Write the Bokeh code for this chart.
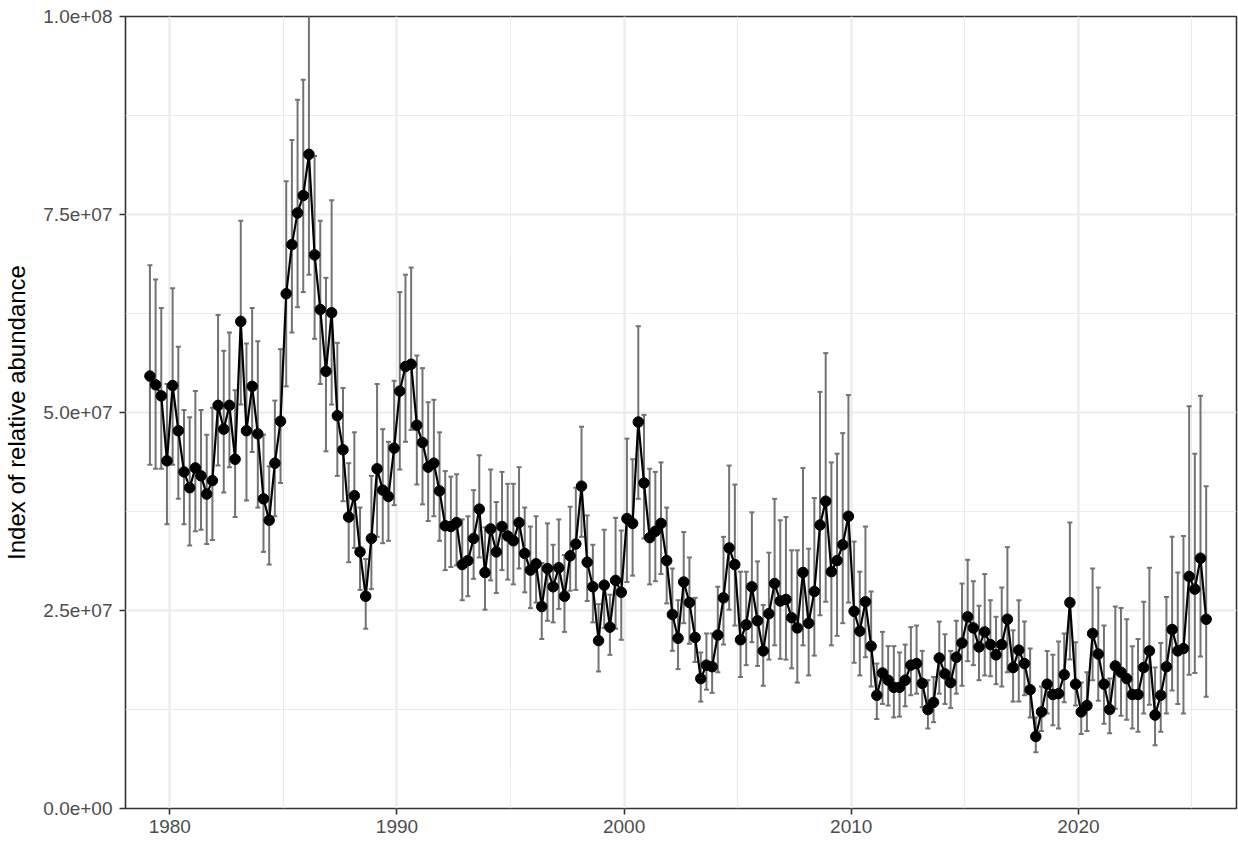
import numpy as np
from bokeh.plotting import figure
from bokeh.models import Range1d, FixedTicker, CustomJSTickFormatter, ColumnDataSource
from bokeh.embed import file_html
from bokeh.resources import INLINE

# Quarterly index of relative abundance (millions), with lower / upper interval bounds
index_m = [
    54.6, 53.5, 52.1, 43.9, 53.4, 47.7, 42.5, 40.5, 43.0, 42.0,
    39.7, 41.4, 50.9, 47.9, 50.9, 44.1, 61.5, 47.7, 53.3, 47.3,
    39.1, 36.4, 43.6, 48.9, 65.0, 71.2, 75.2, 77.4, 82.6, 69.9,
    63.0, 55.2, 62.6, 49.6, 45.3, 36.8, 39.5, 32.4, 26.8, 34.1,
    42.9, 40.2, 39.4, 45.5, 52.7, 55.8, 56.1, 48.4, 46.2, 43.1,
    43.6, 40.1, 35.7, 35.6, 36.1, 30.8, 31.3, 34.1, 37.8, 29.8,
    35.3, 32.4, 35.6, 34.4, 33.8, 36.1, 32.2, 30.1, 30.9, 25.5,
    30.3, 28.0, 30.4, 26.8, 31.9, 33.4, 40.7, 31.1, 28.0, 21.2,
    28.2, 22.9, 28.8, 27.3, 36.6, 36.0, 48.8, 41.1, 34.2, 35.0,
    36.0, 31.3, 24.5, 21.5, 28.6, 26.0, 21.6, 16.4, 18.1, 17.9,
    21.9, 26.6, 32.9, 30.8, 21.3, 23.2, 28.0, 23.7, 19.9, 24.6,
    28.4, 26.2, 26.4, 24.1, 22.8, 29.8, 23.4, 27.4, 35.8, 38.8,
    29.9, 31.3, 33.3, 36.9, 24.9, 22.4, 26.1, 20.5, 14.3, 17.1,
    16.2, 15.3, 15.3, 16.2, 18.1, 18.3, 15.8, 12.5, 13.4, 19.0,
    17.0, 15.9, 19.1, 20.9, 24.2, 22.8, 20.4, 22.3, 20.7, 19.4,
    20.7, 23.9, 17.8, 20.0, 18.3, 15.0, 9.1, 12.2, 15.7, 14.4,
    14.5, 16.9, 26.0, 15.7, 12.2, 13.0, 22.1, 19.5, 15.7, 12.5,
    18.0, 17.2, 16.4, 14.4, 14.4, 17.8, 19.9, 11.8, 14.3, 17.9,
    22.6, 19.9, 20.2, 29.3, 27.7, 31.6, 23.9,
]

lower_m = [
    43.4, 42.9, 42.9, 35.9, 43.4, 39.1, 35.9, 33.2, 35.0, 35.2,
    33.4, 33.9, 43.3, 39.9, 43.1, 36.8, 51.0, 38.9, 45.0, 38.0,
    32.4, 30.8, 36.9, 41.1, 53.3, 60.1, 63.3, 65.2, 67.4, 59.3,
    53.6, 45.1, 51.0, 42.0, 38.8, 31.1, 32.9, 27.6, 22.7, 27.7,
    34.3, 33.5, 33.8, 38.3, 42.8, 46.3, 47.8, 40.9, 38.4, 36.3,
    36.9, 33.8, 30.1, 30.5, 30.7, 26.3, 26.8, 29.0, 31.7, 25.1,
    28.8, 27.2, 30.1, 28.9, 28.3, 30.3, 27.3, 25.3, 26.0, 21.4,
    23.7, 23.5, 25.2, 22.3, 27.5, 27.6, 34.3, 26.2, 23.5, 17.3,
    22.8, 19.4, 22.7, 21.3, 28.6, 29.4, 39.1, 34.1, 28.3, 28.7,
    29.6, 25.9, 19.9, 17.6, 23.4, 20.8, 18.5, 13.5, 15.0, 14.6,
    17.2, 20.7, 25.1, 23.1, 16.6, 18.1, 21.0, 18.0, 15.5, 18.8,
    20.6, 18.9, 18.8, 17.7, 15.9, 20.6, 16.8, 19.3, 24.4, 26.1,
    20.6, 21.8, 23.4, 26.0, 18.4, 16.8, 19.1, 15.4, 11.3, 13.2,
    13.0, 11.5, 11.6, 12.9, 14.3, 14.5, 12.8, 10.1, 10.9, 14.5,
    13.2, 12.7, 14.5, 15.5, 18.6, 18.1, 16.2, 16.8, 16.7, 15.7,
    15.4, 17.2, 13.5, 13.5, 14.3, 11.5, 7.1, 9.8, 12.0, 10.5,
    10.1, 13.4, 18.8, 13.0, 9.4, 9.8, 16.2, 13.6, 10.7, 9.5,
    12.6, 11.7, 11.2, 10.1, 9.7, 12.0, 13.1, 8.0, 9.7, 12.0,
    14.9, 13.2, 12.0, 16.9, 17.1, 19.2, 14.1,
]

upper_m = [
    68.6, 66.8, 63.2, 53.6, 65.7, 58.3, 50.3, 49.4, 52.7, 50.3,
    47.2, 50.6, 62.3, 57.8, 60.1, 52.8, 74.2, 58.7, 63.2, 59.0,
    47.2, 43.2, 51.5, 58.0, 79.2, 84.4, 89.5, 92.0, 101.0, 82.4,
    74.2, 67.0, 76.8, 58.8, 53.1, 43.6, 47.5, 38.0, 31.5, 42.0,
    53.6, 47.9, 46.3, 54.0, 65.2, 67.4, 68.3, 57.2, 55.6, 51.3,
    51.6, 47.5, 42.6, 41.9, 42.2, 36.5, 36.9, 40.2, 44.6, 35.5,
    42.8, 38.7, 42.5, 41.0, 41.0, 43.1, 38.0, 35.6, 36.9, 31.0,
    36.0, 33.3, 36.5, 32.0, 38.1, 40.5, 48.2, 37.0, 33.3, 25.8,
    35.2, 27.0, 36.7, 35.1, 46.7, 44.1, 60.9, 49.7, 42.9, 42.5,
    43.7, 38.0, 30.3, 26.3, 34.9, 31.7, 26.6, 19.7, 22.1, 22.1,
    28.0, 34.3, 43.3, 40.9, 29.9, 29.9, 37.4, 31.2, 25.7, 32.3,
    39.1, 36.4, 36.8, 32.6, 32.6, 43.0, 32.8, 39.2, 52.6, 57.5,
    43.7, 44.8, 47.4, 52.2, 33.7, 29.9, 35.6, 27.4, 18.3, 22.3,
    20.5, 20.5, 19.7, 20.7, 22.9, 23.1, 19.9, 16.2, 16.6, 23.6,
    22.0, 19.9, 23.7, 28.4, 31.4, 28.7, 25.6, 29.6, 26.3, 24.2,
    27.9, 33.0, 22.5, 26.3, 23.6, 20.2, 11.5, 15.4, 19.9, 19.4,
    21.1, 22.1, 36.1, 21.0, 15.9, 17.2, 30.3, 27.9, 23.1, 16.4,
    25.5, 25.3, 23.9, 20.5, 21.4, 26.1, 30.4, 17.8, 20.9, 26.7,
    34.3, 29.8, 34.4, 50.8, 44.8, 52.1, 40.7,
]

# time axis: mid-quarter positions starting in Q1 1979
first_year = 1979
time = first_year + 0.125 + 0.25 * np.arange(len(index_m))

x_major = [1980, 1990, 2000, 2010, 2020]
x_minor = [1985, 1995, 2005, 2015, 2025]
y_major = [0, 2.5e7, 5.0e7, 7.5e7, 1.0e8]
y_minor = [1.25e7, 3.75e7, 6.25e7, 8.75e7]

MILLION = 1e6
est = np.array(index_m) * MILLION
lo = np.array(lower_m) * MILLION
hi = np.array(upper_m) * MILLION
cap = 0.11  # half-width of the interval caps, in years

src = ColumnDataSource(dict(t=time, est=est, lo=lo, hi=hi,
                            c0=time - cap, c1=time + cap))

p = figure(width=1238, height=841, output_backend="svg", toolbar_location=None,
           x_range=Range1d(1978.05, 2026.96), y_range=Range1d(0, 1.0e8),
           min_border_left=124, min_border_right=2, min_border_top=16,
           min_border_bottom=33)

p.background_fill_color = "white"
p.border_fill_color = "white"
p.outline_line_color = "#333333"
p.outline_line_width = 1.6

# interval bars
err_col = "#737373"
p.segment("t", "lo", "t", "hi", source=src, line_color=err_col, line_width=2)
p.segment("c0", "lo", "c1", "lo", source=src, line_color=err_col, line_width=2)
p.segment("c0", "hi", "c1", "hi", source=src, line_color=err_col, line_width=2)

# index series
p.line("t", "est", source=src, line_color="black", line_width=2.2)
p.scatter("t", "est", source=src, size=10.5, fill_color="black", line_color="black")

# axes
p.xaxis.ticker = FixedTicker(ticks=x_major, minor_ticks=x_minor)
p.yaxis.ticker = FixedTicker(ticks=y_major, minor_ticks=y_minor)
p.yaxis.formatter = CustomJSTickFormatter(code="""
    const s = tick.toExponential(1);
    const parts = s.split("e");
    const sign = parts[1][0];
    const d = parts[1].slice(1).padStart(2, "0");
    return parts[0] + "e" + sign + d;
""")
p.yaxis.axis_label = "Index of relative abundance"

for ax in (p.xaxis[0], p.yaxis[0]):
    ax.axis_line_color = None
    ax.major_tick_line_color = "#333333"
    ax.major_tick_line_width = 1.6
    ax.major_tick_out = 6
    ax.major_tick_in = 0
    ax.minor_tick_line_color = None
    ax.major_label_text_font = "Liberation Sans"
    ax.major_label_text_font_size = "19px"
    ax.major_label_text_color = "#4D4D4D"
    ax.axis_label_text_font = "Liberation Sans"
    ax.axis_label_text_font_size = "24px"
    ax.axis_label_text_font_style = "normal"
    ax.axis_label_text_color = "black"

p.xaxis.major_label_standoff = 5
p.yaxis.major_label_standoff = 7
p.yaxis.axis_label_standoff = 10

# grid
for g in (p.xgrid[0], p.ygrid[0]):
    g.grid_line_color = "#EBEBEB"
    g.grid_line_width = 2.2
    g.minor_grid_line_color = "#EBEBEB"
    g.minor_grid_line_width = 1.1

open("out.html", "w").write(file_html(p, INLINE))
